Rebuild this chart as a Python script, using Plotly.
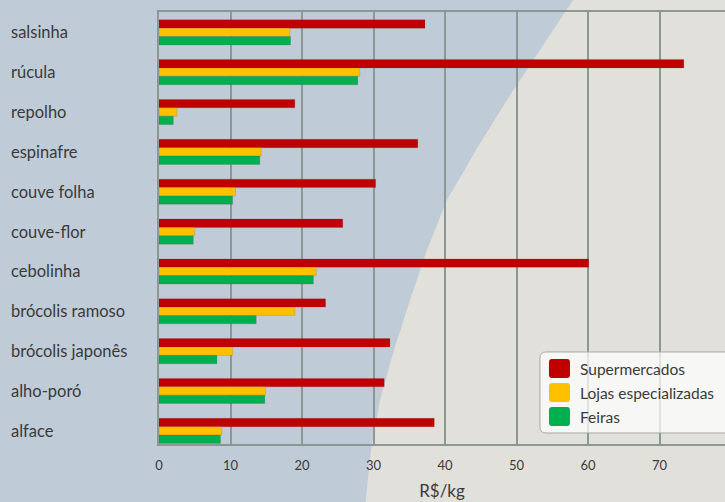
import plotly.graph_objects as go

# Preço médio de hortaliças por canal de venda (R$/kg)
categories = ["salsinha", "rúcula", "repolho", "espinafre", "couve folha", "couve-flor",
              "cebolinha", "brócolis ramoso", "brócolis japonês", "alho-poró", "alface"]
series_names = ["Supermercados", "Lojas especializadas", "Feiras"]
supermercados = [37.2, 73.4, 19.0, 36.2, 30.3, 25.7, 60.1, 23.3, 32.3, 31.5, 38.5]
lojas = [18.3, 28.1, 2.5, 14.3, 10.7, 5.0, 22.0, 19.0, 10.3, 14.9, 8.8]
feiras = [18.4, 27.8, 2.0, 14.1, 10.3, 4.8, 21.6, 13.6, 8.1, 14.8, 8.6]
x_ticks = [0, 10, 20, 30, 40, 50, 60, 70]
x_title = "R$/kg"

colors = ["#c00000", "#ffc000", "#00b050"]
FONT = "Lato"
TEXT = "#3a3a3a"

W, H = 725, 502
ML, MR, MT, MB = 159, 0, 12, 58
PW, PH = W - ML - MR, H - MT - MB


def px(x):
    return (x - ML) / PW


def py(y):
    return (H - MB - y) / PH


fig = go.Figure()
for name, vals, col in zip(series_names, [supermercados, lojas, feiras], colors):
    fig.add_trace(go.Bar(
        y=categories, x=vals, name=name, orientation="h",
        marker=dict(color=col, line=dict(color="rgba(120,40,40,0.25)", width=0.6)),
        showlegend=False,
    ))

shapes = []
# light circular backdrop on the right side
pts = [(585, -5), (573, 0), (540, 50), (507, 100), (476, 150), (447, 200), (427, 250),
       (410, 300), (394, 350), (380, 400), (371, 450), (365, 507), (735, 507), (735, -5)]
path = "M " + " L ".join(f"{px(a):.4f},{py(b):.4f}" for a, b in pts) + " Z"
shapes.append(dict(type="path", xref="paper", yref="paper", path=path,
                   fillcolor="#e2e0da", line=dict(width=0), layer="below"))


# rounded rectangle path in pixel coordinates
def rrect(x0, y0, x1, y1, r):
    return (f"M {px(x0 + r):.4f},{py(y0):.4f} L {px(x1 - r):.4f},{py(y0):.4f} "
            f"Q {px(x1):.4f},{py(y0):.4f} {px(x1):.4f},{py(y0 + r):.4f} "
            f"L {px(x1):.4f},{py(y1 - r):.4f} Q {px(x1):.4f},{py(y1):.4f} {px(x1 - r):.4f},{py(y1):.4f} "
            f"L {px(x0 + r):.4f},{py(y1):.4f} Q {px(x0):.4f},{py(y1):.4f} {px(x0):.4f},{py(y1 - r):.4f} "
            f"L {px(x0):.4f},{py(y0 + r):.4f} Q {px(x0):.4f},{py(y0):.4f} {px(x0 + r):.4f},{py(y0):.4f} Z")


# legend box
shapes.append(dict(type="path", xref="paper", yref="paper", path=rrect(540, 352, 740, 433, 6),
                   fillcolor="rgba(255,255,255,0.72)", line=dict(color="#a8aaa8", width=1)))
annotations = []
sw_top = [359, 383, 407]
for name, col, t in zip(series_names, colors, sw_top):
    shapes.append(dict(type="path", xref="paper", yref="paper", path=rrect(549, t, 570, t + 19, 3),
                       fillcolor=col, line=dict(width=0)))
    annotations.append(dict(xref="paper", yref="paper", x=px(578), y=py(t + 9.5), text=name,
                            showarrow=False, xanchor="left", yanchor="middle",
                            font=dict(family=FONT, size=15.5, color=TEXT)))

# left-aligned category labels
for c in categories:
    annotations.append(dict(xref="paper", yref="y", x=px(9), y=c, text=c, showarrow=False,
                            xanchor="left", yanchor="middle",
                            font=dict(family=FONT, size=16.5, color=TEXT)))

fig.update_layout(
    width=W, height=H,
    margin=dict(l=ML, r=MR, t=MT, b=MB, pad=0),
    paper_bgcolor="#bfccd7",
    plot_bgcolor="rgba(0,0,0,0)",
    barmode="group", bargap=0.37, bargroupgap=0,
    shapes=shapes, annotations=annotations,
    font=dict(family=FONT, color=TEXT),
    xaxis=dict(range=[0, PW / 7.15], tickvals=x_ticks, ticktext=[str(v) for v in x_ticks],
               showgrid=True, gridcolor="#8c9894", gridwidth=1.6, zeroline=False,
               showline=True, linecolor="#8c9894", linewidth=2, mirror=True,
               ticks="", tickfont=dict(size=13, color=TEXT), ticklabelstandoff=8,
               title=dict(text=x_title, font=dict(size=17, color=TEXT), standoff=14)),
    yaxis=dict(categoryorder="array", categoryarray=categories, range=[10.33, -0.51],
               showticklabels=False, showgrid=False, showline=True, linecolor="#8c9894",
               linewidth=2, ticks="", zeroline=False),
)

fig.write_html("out.html")
